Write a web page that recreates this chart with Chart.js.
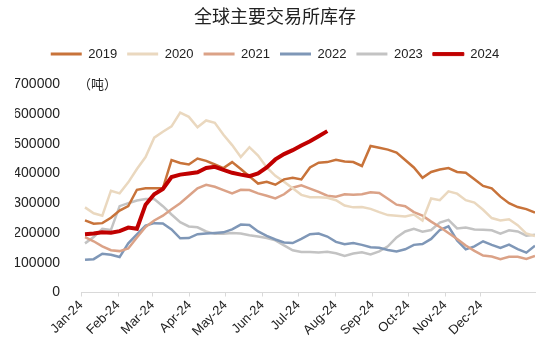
<!DOCTYPE html>
<html>
<head>
<meta charset="utf-8">
<script src="https://cdn.jsdelivr.net/npm/chart.js@4.4.0/dist/chart.umd.min.js"></script>
<style>
  html, body { margin: 0; padding: 0; background: #fff; }
  #wrap { width: 550px; height: 354px; }
</style>
</head>
<body>
<div id="wrap"><canvas id="stockChart"></canvas></div>
<script>
// weekly inventory of the main exchanges, tonnes
const years = ['2019', '2020', '2021', '2022', '2023', '2024'];

const stock2019 = [242000, 231000, 233000, 251000, 275000, 290000, 345000, 350000, 350000, 350000,
  445000, 435000, 430000, 450000, 442000, 430000, 418000, 438000, 415000, 390000,
  366000, 372000, 362000, 380000, 385000, 380000, 420000, 436000, 438000, 446000,
  440000, 438000, 425000, 492000, 486000, 480000, 470000, 445000, 420000, 385000,
  405000, 413000, 418000, 405000, 402000, 380000, 358000, 350000, 322000, 300000,
  287000, 280000, 268000];
const stock2020 = [286000, 266000, 258000, 342000, 333000, 370000, 415000, 455000, 520000, 540000,
  558000, 604000, 590000, 555000, 578000, 570000, 530000, 495000, 455000, 488000,
  460000, 420000, 392000, 372000, 350000, 328000, 320000, 320000, 318000, 310000,
  292000, 286000, 287000, 281000, 270000, 260000, 258000, 255000, 262000, 242000,
  316000, 310000, 340000, 332000, 310000, 302000, 278000, 250000, 242000, 246000,
  226000, 198000, 190000];
const stock2021 = [186000, 172000, 155000, 142000, 139000, 148000, 185000, 220000, 242000, 258000,
  280000, 300000, 325000, 350000, 362000, 355000, 344000, 333000, 345000, 344000,
  333000, 325000, 316000, 330000, 352000, 360000, 349000, 338000, 325000, 322000,
  330000, 328000, 330000, 337000, 334000, 315000, 295000, 290000, 270000, 258000,
  238000, 220000, 200000, 180000, 158000, 140000, 124000, 121000, 112000, 120000,
  120000, 113000, 123000];
const stock2022 = [110000, 112000, 130000, 127000, 119000, 165000, 195000, 225000, 233000, 232000,
  212000, 182000, 183000, 196000, 198000, 200000, 202000, 212000, 228000, 227000,
  205000, 190000, 178000, 168000, 166000, 180000, 196000, 198000, 188000, 170000,
  162000, 166000, 160000, 152000, 150000, 143000, 138000, 145000, 160000, 163000,
  180000, 210000, 222000, 175000, 145000, 155000, 172000, 160000, 150000, 161000,
  146000, 134000, 157000];
const stock2023 = [165000, 186000, 214000, 210000, 290000, 300000, 309000, 314000, 314000, 290000,
  262000, 236000, 222000, 219000, 205000, 197000, 197000, 200000, 198000, 192000,
  188000, 183000, 175000, 158000, 142000, 136000, 136000, 134000, 137000, 132000,
  123000, 131000, 135000, 128000, 138000, 155000, 185000, 205000, 214000, 204000,
  210000, 235000, 244000, 215000, 218000, 212000, 211000, 209000, 198000, 209000,
  205000, 191000, 194000];
const stock2024 = [196000, 198000, 202000, 201000, 206000, 218000, 214000, 295000, 330000, 348000,
  388000, 396000, 400000, 404000, 418000, 422000, 412000, 402000, 396000, 391000,
  400000, 420000, 447000, 465000, 478000, 494000, 508000, 525000, 542000];

const monthLabels = ['Jan-24', 'Feb-24', 'Mar-24', 'Apr-24', 'May-24', 'Jun-24',
  'Jul-24', 'Aug-24', 'Sep-24', 'Oct-24', 'Nov-24', 'Dec-24'];
const monthStartDays = [0, 31, 60, 91, 121, 152, 182, 213, 244, 274, 305, 335];

const colors = ['#C8733A', '#EAD8BF', '#DBA287', '#7F97B7', '#C3C3C3', '#C00000'];
const widths = [2.5, 2.5, 2.5, 2.5, 2.5, 4];

// the weekly points sit on a week index, the month ticks are converted to it
const firstWeekDay = 3.35;
const daysPerStep = 7.25;
const weekIndex = stock2019.map((v, i) => i);
const monthTickPos = monthStartDays.map(d => (d - firstWeekDay) / daysPerStep);

const series = [stock2019, stock2020, stock2021, stock2022, stock2023, stock2024];
const FONT = '"Liberation Sans", Arial, "Noto Sans CJK SC", sans-serif';

const unitLabel = {
  id: 'unitLabel',
  afterDraw(chart) {
    const ctx = chart.ctx;
    const y = chart.scales.y.getPixelForValue(700000);
    ctx.save();
    ctx.font = '13px "Noto Sans CJK SC"';
    ctx.fillStyle = '#262626';
    ctx.textBaseline = 'middle';
    ctx.fillText('（吨）', chart.chartArea.left - 3, y);
    ctx.restore();
  }
};

// extra room under the legend row
const legendGap = {
  id: 'legendGap',
  beforeInit(chart) {
    const fit = chart.legend.fit;
    chart.legend.fit = function () {
      fit.call(this);
      this.height += 13.5;
    };
  }
};

const ctx = document.getElementById('stockChart').getContext('2d');
new Chart(ctx, {
  type: 'line',
  data: {
    labels: weekIndex,
    datasets: years.map((yr, k) => ({
      label: yr,
      data: series[k],
      borderColor: colors[k],
      backgroundColor: colors[k],
      borderWidth: widths[k],
      pointRadius: 0,
      tension: 0,
      order: yr === '2024' ? 0 : 1
    }))
  },
  options: {
    responsive: true,
    maintainAspectRatio: false,
    animation: false,
    layout: { padding: { left: 15, right: 15, top: 0, bottom: 0 } },
    plugins: {
      title: {
        display: true,
        text: '全球主要交易所库存',
        color: '#222',
        font: { family: '"Noto Sans CJK SC", sans-serif', size: 18, weight: 'normal' },
        padding: { top: 5, bottom: 11 }
      },
      legend: {
        position: 'top',
        labels: {
          color: '#222',
          font: { family: FONT, size: 13 },
          boxWidth: 31,
          boxHeight: 3,
          padding: 10,
          generateLabels(chart) {
            return chart.data.datasets.map((ds, i) => ({
              text: ds.label,
              fillStyle: ds.borderColor,
              strokeStyle: ds.borderColor,
              lineWidth: ds.label === '2024' ? 1 : 0,
              fontColor: '#222',
              datasetIndex: i,
              hidden: false
            }));
          }
        }
      },
      tooltip: { enabled: false }
    },
    scales: {
      x: {
        type: 'linear',
        min: monthTickPos[0],
        max: weekIndex[weekIndex.length - 1],
        afterBuildTicks(axis) {
          axis.ticks = monthTickPos.map(v => ({ value: v }));
        },
        afterFit(axis) {
          axis.height = 61.5;
        },
        ticks: {
          autoSkip: false,
          minRotation: 45,
          maxRotation: 45,
          padding: 1,
          color: '#222',
          font: { family: FONT, size: 13 },
          callback: (v, i) => monthLabels[i]
        },
        grid: {
          display: true,
          drawOnChartArea: false,
          drawTicks: true,
          tickLength: 4,
          color: '#D9D9D9'
        },
        border: { display: true, color: '#D9D9D9', width: 1 }
      },
      y: {
        min: 0,
        max: 700000,
        afterFit(axis) {
          axis.width = 66;
        },
        ticks: {
          stepSize: 100000,
          padding: 13,
          color: '#222',
          font: { family: FONT, size: 14 },
          callback: v => String(v)
        },
        grid: { display: false },
        border: { display: false }
      }
    }
  },
  plugins: [unitLabel, legendGap]
});
</script>
</body>
</html>
